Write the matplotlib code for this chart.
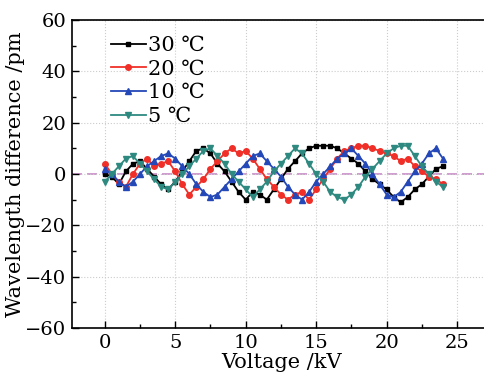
import numpy as np
import matplotlib
matplotlib.use("Agg")
import matplotlib.pyplot as plt
from matplotlib.ticker import MultipleLocator

plt.rcParams['font.family'] = ['DejaVu Serif', 'DejaVu Sans']
plt.rcParams['mathtext.fontset'] = 'dejavuserif'

voltage = [i * 0.5 for i in range(49)]
t30 = [0, -1, -4, 1, 4, 5, 2, -1, -4, -6, -3, 1, 5, 9, 10, 8, 4, 1, -3, -7,
       -10, -7, -8, -10, -6, -2, 2, 5, 8, 10, 11, 11, 11, 10, 8, 6, 4, 1, -2, -4,
       -6, -9, -11, -9, -6, -4, -1, 2, 3]
t20 = [4, 0, -3, -5, 0, 4, 6, 3, 4, 5, 1, -4, -8, -5, -2, 2, 5, 8, 10, 8,
       9, 6, 2, -2, -5, -8, -10, -8, -7, -10, -6, -2, 2, 6, 9, 10, 11, 11, 10, 9,
       8, 7, 5, 6, 3, 1, -1, -2, -4]
t10 = [2, 0, -3, -5, -3, 0, 3, 5, 7, 8, 6, 3, 0, -4, -7, -9, -8, -5, -2, 1,
       4, 7, 8, 5, 2, -1, -5, -8, -10, -7, -3, 0, 3, 6, 8, 10, 7, 4, 0, -4,
       -8, -9, -7, -3, 1, 4, 8, 10, 6]
t5 = [-3, 0, 3, 6, 7, 4, 1, -2, -5, -6, -3, 0, 3, 6, 9, 10, 7, 4, 0, -3,
      -6, -9, -6, -3, 1, 4, 7, 10, 8, 4, 0, -3, -7, -9, -10, -8, -5, -1, 2, 5,
      8, 10, 11, 11, 7, 3, 0, -3, -5]
labels = ["30 ℃", "20 ℃", "10 ℃", "5 ℃"]

fig = plt.figure(figsize=(4.85, 3.77), dpi=100)
ax = fig.add_axes([0.148, 0.130, 0.867, 0.817])

ax.axhline(0, color='#c88ac8', ls=(0, (6, 3)), lw=1.2, zorder=1)

ax.plot(voltage, t30, color='black', marker='s', ms=3.5, lw=1.3, label=labels[0], zorder=3)
ax.plot(voltage, t20, color='#f03028', marker='o', ms=4, lw=1.3, label=labels[1], zorder=3)
ax.plot(voltage, t10, color='#2448b8', marker='^', ms=4.5, lw=1.3, label=labels[2], zorder=3)
ax.plot(voltage, t5, color='#2e8a80', marker='v', ms=4.5, lw=1.3, label=labels[3], zorder=3)

ax.set_xlim(-2.34, 27.5)
ax.set_ylim(-60, 60)
ax.xaxis.set_major_locator(MultipleLocator(5))
ax.xaxis.set_minor_locator(MultipleLocator(2.5))
ax.yaxis.set_major_locator(MultipleLocator(20))
ax.yaxis.set_minor_locator(MultipleLocator(10))
ax.tick_params(which='both', direction='in', top=False, right=False, labelsize=14)
ax.tick_params(which='major', length=5, width=1, pad=4)
ax.tick_params(which='minor', length=3, width=1)
ax.grid(True, which='major', color='#cccccc', ls=':', lw=0.8)
for s in ax.spines.values():
    s.set_linewidth(1.2)

ax.set_xlabel("Voltage /kV", fontsize=15, labelpad=1)
ax.set_ylabel("Wavelength difference /pm", fontsize=15, labelpad=0)

leg = ax.legend(loc='upper left', frameon=False, fontsize=15, handlelength=1.7,
                handletextpad=0.1, labelspacing=0.22, borderaxespad=0.3,
                bbox_to_anchor=(0.058, 0.995))

fig.savefig("out.png", dpi=100)
